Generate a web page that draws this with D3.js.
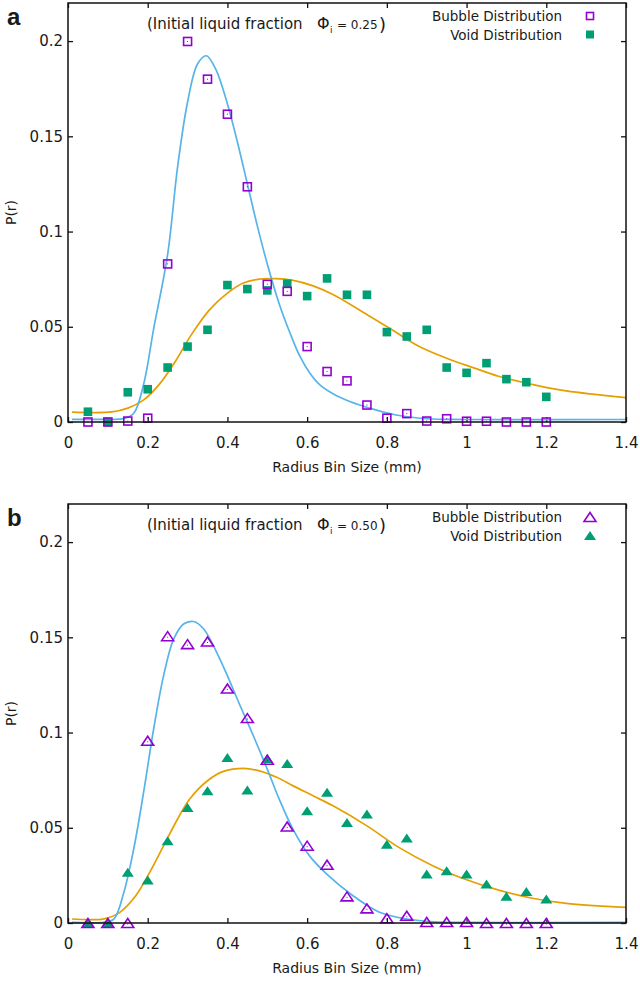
<!DOCTYPE html>
<html>
<head>
<meta charset="utf-8">
<script src="https://cdn.jsdelivr.net/npm/d3@7"></script>
<style>
  body { margin: 0; background: #fff; }
  text { font-family: "DejaVu Sans", Verdana, sans-serif; fill: #1a1a1a; }
</style>
</head>
<body>
<div id="chart-area"></div>
<script>

// radius bins (mm)
let bins = [0.05, 0.1, 0.15, 0.2, 0.25, 0.3, 0.35, 0.4, 0.45, 0.5, 0.55, 0.6,
            0.65, 0.7, 0.75, 0.8, 0.85, 0.9, 0.95, 1.0, 1.05, 1.1, 1.15, 1.2];

// panel a (phi = 0.25)
let bubbleA = [0, 0, 0.0005, 0.002, 0.083, 0.1998, 0.180, 0.1616, 0.1235, 0.0723, 0.0686, 0.0396,
               0.0265, 0.0216, 0.0089, 0.002, 0.0044, 0.0005, 0.0017, 0.0004, 0.0004, 0, 0, 0];
let voidA = [0.0054, 0, 0.0156, 0.0172, 0.0286, 0.0396, 0.0484, 0.0719, 0.0698, 0.0691, 0.0726, 0.0661,
             0.0754, 0.0668, 0.0668, 0.0472, 0.0449, 0.0484, 0.0286, 0.0258, 0.0309, 0.0225, 0.0209, 0.0132];

// fitted curves
let fitBubbleAx = [0.01, 0.1, 0.14, 0.165, 0.19, 0.215, 0.25, 0.275, 0.3, 0.325, 0.347, 0.37, 0.4, 0.425,
                   0.45, 0.475, 0.5, 0.53, 0.557, 0.582, 0.607, 0.632, 0.666, 0.707, 0.758, 0.82, 0.9, 1.0, 1.4];
let fitBubbleAy = [0.0014, 0.0014, 0.0018, 0.0046, 0.020, 0.049, 0.088, 0.134, 0.168, 0.188, 0.1923, 0.1855,
                   0.167, 0.147, 0.125, 0.103, 0.083, 0.062, 0.0467, 0.0344, 0.0256, 0.0195, 0.0147, 0.0108,
                   0.0072, 0.0038, 0.0017, 0.0013, 0.0013];
let fitVoidAx = [0.01, 0.11, 0.15, 0.19, 0.23, 0.27, 0.31, 0.355, 0.4, 0.44, 0.48, 0.52, 0.565, 0.615,
                 0.666, 0.758, 0.82, 0.88, 0.95, 1.02, 1.08, 1.17, 1.25, 1.4];
let fitVoidAy = [0.0052, 0.0053, 0.0073, 0.0116, 0.020, 0.032, 0.046, 0.0589, 0.0677, 0.073, 0.075, 0.0753,
                 0.0744, 0.0715, 0.0668, 0.0554, 0.0475, 0.0398, 0.0335, 0.0283, 0.0240, 0.0195, 0.0163, 0.0128];

// panel b (phi = 0.50)
let bubbleB = [0, 0, 0, 0.0957, 0.1506, 0.1464, 0.1478, 0.1231, 0.1076, 0.0857, 0.0507, 0.0406,
               0.0306, 0.014, 0.0077, 0.0025, 0.0038, 0.0005, 0.0005, 0.0005, 0, 0, 0, 0];
let voidB = [0, 0, 0.0266, 0.0226, 0.0432, 0.0607, 0.0694, 0.0869, 0.0698, 0.0864, 0.0838, 0.0589,
             0.0686, 0.0528, 0.0572, 0.0414, 0.0446, 0.0257, 0.0274, 0.0257, 0.0205, 0.014, 0.0166, 0.0126];

let fitBubbleBx = [0.01, 0.09, 0.115, 0.14, 0.165, 0.19, 0.215, 0.24, 0.265, 0.29, 0.315, 0.34, 0.365,
                   0.4, 0.43, 0.465, 0.5, 0.53, 0.565, 0.605, 0.65, 0.715, 0.78, 0.85, 0.92, 1.0, 1.4];
let fitBubbleBy = [0.0003, 0.0004, 0.002, 0.016, 0.039, 0.069, 0.102, 0.130, 0.149, 0.157, 0.1583, 0.1545,
                   0.1455, 0.1298, 0.115, 0.0983, 0.0808, 0.065, 0.049, 0.0355, 0.0255, 0.0143, 0.0058,
                   0.0021, 0.0006, 0.0003, 0.0003];
let fitVoidBx = [0.01, 0.09, 0.13, 0.17, 0.205, 0.24, 0.275, 0.305, 0.35, 0.39, 0.44, 0.48, 0.525, 0.565,
                 0.615, 0.665, 0.75, 0.83, 0.915, 1.0, 1.085, 1.165, 1.25, 1.4];
let fitVoidBy = [0.0021, 0.0022, 0.0056, 0.0143, 0.0266, 0.0406, 0.0546, 0.065, 0.0747, 0.0796, 0.0812,
                 0.0799, 0.0764, 0.072, 0.0668, 0.0615, 0.051, 0.0397, 0.0301, 0.0227, 0.0170, 0.0130,
                 0.0103, 0.0082];

let xTicks = [0, 0.2, 0.4, 0.6, 0.8, 1, 1.2, 1.4];
let yTicks = [0, 0.05, 0.1, 0.15, 0.2];
let seriesNames = ["Bubble Distribution", "Void Distribution"];

// colours
let cPurple = "#9400d3", cGreen = "#009e73", cBlue = "#56b4e9", cOrange = "#e69f00";

// SVG drawing area
let W = 640, H = 982;
let margin = {top: 3, right: 14, bottom: 0, left: 68};
let width = W - margin.left - margin.right,
    height = 419;

let svg = d3.select("#chart-area").append("svg")
    .attr("width", W)
    .attr("height", H);

let x = d3.scaleLinear().domain([0, 1.4]).range([0, width]);
let y = d3.scaleLinear().domain([0, 0.22]).range([height, 0]);

let line = d3.line()
    .x(d => x(d[0]))
    .y(d => y(d[1]))
    .curve(d3.curveCatmullRom.alpha(0.5));

let triPath = "M0,-4.5L6,4.5L-6,4.5Z";

function drawPanel(offsetY, letter, phi, bubble, voids, bx, by, vx, vy, tri) {
    let g = svg.append("g")
        .attr("transform", "translate(" + margin.left + "," + (margin.top + offsetY) + ")");

    // axes with inward ticks
    g.append("g").attr("transform", "translate(0," + height + ")")
        .call(d3.axisBottom(x).tickValues(xTicks).tickFormat(d3.format("~g"))
            .tickSizeInner(-5).tickSizeOuter(0).tickPadding(15));
    g.append("g")
        .call(d3.axisTop(x).tickValues(xTicks).tickFormat("").tickSizeInner(-5).tickSizeOuter(0));
    g.append("g")
        .call(d3.axisLeft(y).tickValues(yTicks).tickFormat(d3.format("~g"))
            .tickSizeInner(-5).tickSizeOuter(0).tickPadding(5));
    g.append("g").attr("transform", "translate(" + width + ",0)")
        .call(d3.axisRight(y).tickValues(yTicks).tickFormat("").tickSizeInner(-5).tickSizeOuter(0));

    g.selectAll(".domain").remove();
    g.selectAll(".tick line").attr("stroke", "#111").attr("stroke-width", 1.3);
    g.selectAll(".tick text")
        .style("font-family", '"DejaVu Sans", Verdana, sans-serif')
        .style("font-size", "15px").attr("fill", "#1a1a1a");

    // fitted curves
    g.append("path").datum(d3.zip(vx, vy))
        .attr("d", line).attr("fill", "none").attr("stroke", cOrange).attr("stroke-width", 1.7);
    g.append("path").datum(d3.zip(bx, by))
        .attr("d", line).attr("fill", "none").attr("stroke", cBlue).attr("stroke-width", 1.7);

    // points
    let vPts = d3.zip(bins, voids);
    let bPts = d3.zip(bins, bubble);
    if (tri) {
        g.selectAll(".vpt").data(vPts).enter().append("path")
            .attr("transform", d => "translate(" + x(d[0]) + "," + y(d[1]) + ")")
            .attr("d", triPath).attr("fill", cGreen);
        g.selectAll(".bpt").data(bPts).enter().append("path")
            .attr("transform", d => "translate(" + x(d[0]) + "," + y(d[1]) + ")")
            .attr("d", triPath).attr("fill", "none").attr("stroke", cPurple).attr("stroke-width", 1.6);
    } else {
        g.selectAll(".vpt").data(vPts).enter().append("rect")
            .attr("x", d => x(d[0]) - 4.3).attr("y", d => y(d[1]) - 4.3)
            .attr("width", 8.6).attr("height", 8.6).attr("fill", cGreen);
        g.selectAll(".bpt").data(bPts).enter().append("rect")
            .attr("x", d => x(d[0]) - 4).attr("y", d => y(d[1]) - 4)
            .attr("width", 8).attr("height", 8)
            .attr("fill", "none").attr("stroke", cPurple).attr("stroke-width", 1.6);
    }
    g.selectAll(".bdot").data(bPts).enter().append("rect")
        .attr("x", d => x(d[0]) - 0.5).attr("y", d => y(d[1]) - 0.5 + (tri ? 1 : 0))
        .attr("width", 1).attr("height", 1).attr("fill", cPurple);

    // border
    g.append("rect").attr("width", width).attr("height", height)
        .attr("fill", "none").attr("stroke", "#111").attr("stroke-width", 1.5);

    // axis titles
    g.append("text")
        .attr("x", width / 2).attr("y", height + 50)
        .attr("text-anchor", "middle").style("font-size", "14px")
        .text("Radius Bin Size (mm)");
    g.append("text")
        .attr("transform", "translate(" + (16 - margin.left) + "," + height / 2 + ") rotate(-90)")
        .attr("text-anchor", "middle").style("font-size", "14px")
        .text("P(r)");

    // panel letter
    g.append("text")
        .attr("x", 7 - margin.left).attr("y", 22)
        .style("font-family", '"Liberation Sans", Arial, sans-serif')
        .style("font-size", "24px").style("font-weight", "bold").attr("fill", "#000")
        .text(letter);

    // annotation
    let ann = g.append("g").attr("transform", "translate(" + (147 - margin.left) + ",26)");
    ann.append("text").style("font-size", "15px").text("(Initial liquid fraction");
    ann.append("text").attr("x", 170).style("font-size", "16px").text("\u03A6");
    ann.append("text").attr("x", 183).attr("y", 4).style("font-size", "9px").text("i");
    ann.append("text").attr("x", 190).style("font-size", "12px").text("= " + phi);
    ann.append("text").attr("x", 232).attr("y", 2).style("font-size", "18px").text(")");

    // legend
    let leg = g.append("g").attr("transform", "translate(" + (562 - margin.left) + ",13)");
    seriesNames.forEach(function(name, i) {
        let row = leg.append("g").attr("transform", "translate(0," + (i * 18.5) + ")");
        row.append("text").attr("y", 5).attr("text-anchor", "end")
            .style("font-size", "13.5px").text(name);
        if (tri) {
            row.append("path").attr("transform", "translate(28,0)").attr("d", triPath)
                .attr("fill", i == 0 ? "none" : cGreen)
                .attr("stroke", i == 0 ? cPurple : "none").attr("stroke-width", 1.6);
        } else if (i == 0) {
            row.append("rect").attr("x", 24.5).attr("y", -3.5).attr("width", 7).attr("height", 7)
                .attr("fill", "none").attr("stroke", cPurple).attr("stroke-width", 1.6);
        } else {
            row.append("rect").attr("x", 24).attr("y", -4).attr("width", 8).attr("height", 8)
                .attr("fill", cGreen);
        }
    });
}

drawPanel(0, "a", "0.25", bubbleA, voidA, fitBubbleAx, fitBubbleAy, fitVoidAx, fitVoidAy, false);
drawPanel(501, "b", "0.50", bubbleB, voidB, fitBubbleBx, fitBubbleBy, fitVoidBx, fitVoidBy, true);

</script>
</body>
</html>
